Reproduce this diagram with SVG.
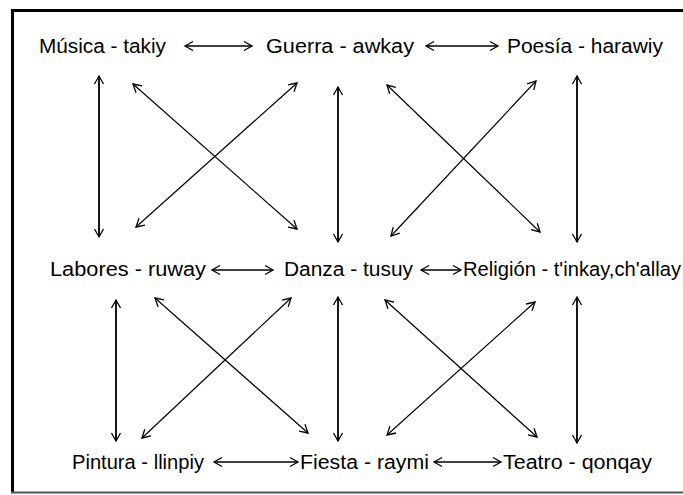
<svg xmlns="http://www.w3.org/2000/svg" width="683" height="495" viewBox="0 0 683 495">
<style>
text{font-family:"Liberation Sans",Arial,sans-serif;font-size:20px;fill:#000}
.c line{stroke:#000;fill:none;marker-start:url(#ah);marker-end:url(#ah)}
.h{stroke-width:1.4}
.v{stroke-width:1.8}
.d{stroke-width:1.2}
</style>
<defs>
<marker id="ah" markerUnits="userSpaceOnUse" markerWidth="14" markerHeight="14" viewBox="-10 -7 12 14" refX="0" refY="0" orient="auto-start-reverse">
<path d="M-8,-4.5 L0,0 L-8,4.5" fill="none" stroke="#000" stroke-width="1.3"/>
</marker>
</defs>
<rect width="683" height="495" fill="#fff"/>
<g id="frame">
<line x1="12" y1="10.5" x2="683" y2="10.5" stroke="#000" stroke-width="3"/>
<line x1="12.5" y1="9" x2="12.5" y2="493" stroke="#000" stroke-width="3"/>
<line x1="11" y1="492.5" x2="683" y2="492.5" stroke="#555" stroke-width="2"/>
</g>
<g id="musica"><text x="39" y="53" textLength="127" lengthAdjust="spacingAndGlyphs">Música - takiy</text></g>
<g id="guerra"><text x="266" y="53" textLength="148" lengthAdjust="spacingAndGlyphs">Guerra - awkay</text></g>
<g id="poesia"><text x="507" y="53" textLength="156" lengthAdjust="spacingAndGlyphs">Poesía - harawiy</text></g>
<g id="labores"><text x="50" y="276" textLength="156" lengthAdjust="spacingAndGlyphs">Labores - ruway</text></g>
<g id="danza"><text x="284" y="276" textLength="129" lengthAdjust="spacingAndGlyphs">Danza - tusuy</text></g>
<g id="religion"><text x="463" y="276" textLength="218" lengthAdjust="spacingAndGlyphs">Religión - t'inkay,ch'allay</text></g>
<g id="pintura"><text x="72" y="469" textLength="132" lengthAdjust="spacingAndGlyphs">Pintura - llinpiy</text></g>
<g id="fiesta"><text x="300" y="469" textLength="129" lengthAdjust="spacingAndGlyphs">Fiesta - raymi</text></g>
<g id="teatro"><text x="503" y="469" textLength="149" lengthAdjust="spacingAndGlyphs">Teatro - qonqay</text></g>
<g id="connectors" class="c">
<line class="h" x1="185" y1="46" x2="252" y2="46"/>
<line class="h" x1="426" y1="46" x2="498" y2="46"/>
<line class="h" x1="212" y1="270" x2="273" y2="270"/>
<line class="h" x1="421" y1="270" x2="461" y2="270"/>
<line class="h" x1="214" y1="462" x2="298" y2="462"/>
<line class="h" x1="434" y1="462" x2="501" y2="462"/>
<line class="v" x1="99" y1="76" x2="99" y2="237"/>
<line class="v" x1="338" y1="87" x2="338" y2="242"/>
<line class="v" x1="577" y1="76" x2="577" y2="242"/>
<line class="v" x1="116" y1="300" x2="116" y2="441"/>
<line class="v" x1="338" y1="297" x2="338" y2="441"/>
<line class="v" x1="577" y1="297" x2="577" y2="443"/>
<line class="d" x1="133" y1="84" x2="297" y2="229"/>
<line class="d" x1="297" y1="83" x2="136" y2="227"/>
<line class="d" x1="387" y1="85" x2="540" y2="232"/>
<line class="d" x1="536" y1="81" x2="391" y2="236"/>
<line class="d" x1="155" y1="298" x2="308" y2="433"/>
<line class="d" x1="291" y1="298" x2="142" y2="438"/>
<line class="d" x1="385" y1="300" x2="537" y2="437"/>
<line class="d" x1="535" y1="302" x2="387" y2="435"/>
</g>
</svg>
